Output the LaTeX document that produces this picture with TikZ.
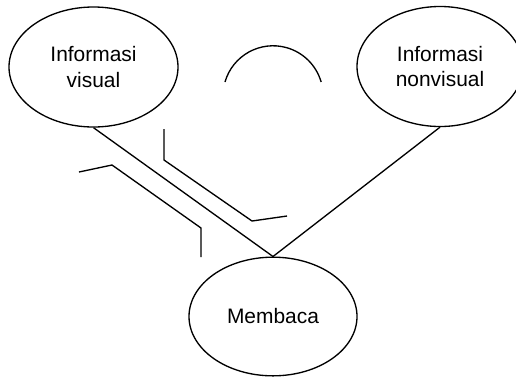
\documentclass[tikz,border=0pt]{standalone}
\usepackage{fontspec}
\setmainfont{Liberation Sans}
\usetikzlibrary{shapes.geometric}
\tikzset{
  bubble/.style={draw, line width=1pt, ellipse, inner sep=0pt, align=center,
    font=\fontsize{15.7}{18.8}\selectfont},
  link/.style={line width=1pt},
  mark line/.style={line width=1pt}
}
\begin{document}
\begin{tikzpicture}[x=0.75pt,y=-0.75pt]
\useasboundingbox (0,0) rectangle (516,376);
\node[bubble, minimum width=126.75pt, minimum height=90pt] (v) at (93.5,67) {Informasi\\visual};
\node[bubble, minimum width=124.5pt, minimum height=90pt] (nv) at (440,66.5) {Informasi\\nonvisual};
\node[bubble, minimum width=126pt, minimum height=89pt] (m) at (273,316.5) {Membaca};
\draw[link] (v.south) -- (m.north);
\draw[link] (nv.south) -- (m.north);
\draw[mark line] (225,82) arc[start angle=164, end angle=16, radius=37.5pt];
\draw[mark line] (164,129) -- (164,160) -- (252,221) -- (287,216);
\draw[mark line] (79,172) -- (112,165) -- (201,228) -- (201,257);
\end{tikzpicture}
\end{document}
